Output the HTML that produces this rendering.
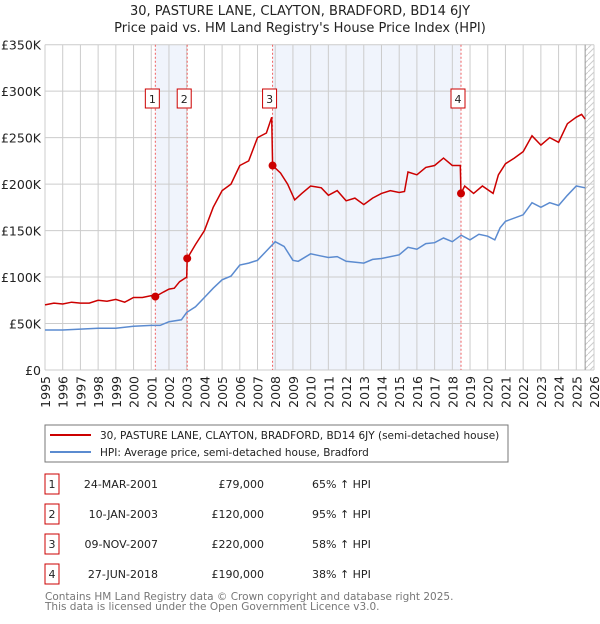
<!DOCTYPE html>
<html><head><meta charset="utf-8"><style>
body{margin:0;background:#fff;font-family:"DejaVu Sans","Liberation Sans",sans-serif;}
svg text{font-family:"DejaVu Sans","Liberation Sans",sans-serif;}
</style></head><body>
<svg id="chart" width="600" height="620" xmlns="http://www.w3.org/2000/svg">
<defs><pattern id="hatch" width="6" height="6" patternUnits="userSpaceOnUse"><path d="M0,6 L6,0" stroke="#ccc" stroke-width="1"/></pattern></defs>
<text x="300" y="15" text-anchor="middle" font-size="13" fill="#222">30, PASTURE LANE, CLAYTON, BRADFORD, BD14 6JY</text>
<text x="300" y="32" text-anchor="middle" font-size="13" fill="#222">Price paid vs. HM Land Registry's House Price Index (HPI)</text>
<g id="plot"></g>
<rect x="45" y="425" width="463" height="37" fill="#fff" stroke="#777"/>
<line x1="50" y1="435" x2="91" y2="435" stroke="#cc0000" stroke-width="2"/>
<text x="100" y="439" font-size="10.5" fill="#222">30, PASTURE LANE, CLAYTON, BRADFORD, BD14 6JY (semi-detached house)</text>
<line x1="50" y1="452" x2="91" y2="452" stroke="#5b8bd0" stroke-width="2"/>
<text x="100" y="456" font-size="10.5" fill="#222">HPI: Average price, semi-detached house, Bradford</text>
<g id="table" font-size="11" fill="#222"></g>
<text x="45" y="600" font-size="10.5" fill="#777">Contains HM Land Registry data © Crown copyright and database right 2025.</text>
<text x="45" y="610" font-size="10.5" fill="#777">This data is licensed under the Open Government Licence v3.0.</text>
</svg>
<script>
const propYears=[1995,1995.5,1996,1996.5,1997,1997.5,1998,1998.5,1999,1999.5,2000,2000.5,2001,2001.23,2001.7,2002,2002.3,2002.6,2003.0,2003.03,2003.5,2004,2004.5,2005,2005.5,2006,2006.5,2007,2007.5,2007.8,2007.85,2008.3,2008.7,2009.1,2009.5,2010,2010.3,2010.6,2011,2011.5,2012,2012.5,2013,2013.5,2014,2014.5,2015,2015.3,2015.5,2016,2016.5,2017,2017.5,2018,2018.45,2018.49,2018.7,2019.2,2019.7,2020.3,2020.6,2021,2021.5,2022,2022.5,2023,2023.5,2024,2024.5,2025,2025.3,2025.5];
const propVals=[70,72,71,73,72,72,75,74,76,73,78,78,80,79,84,87,88,95,100,120,135,150,175,193,200,220,225,250,255,272,220,212,200,183,190,198,197,196,188,193,182,185,178,185,190,193,191,192,213,210,218,220,228,220,220,190,198,190,198,190,210,222,228,235,252,242,250,245,265,272,275,270];
const hpiYears=[1995,1996,1997,1998,1999,2000,2001,2001.5,2002,2002.7,2003,2003.5,2004,2004.5,2005,2005.5,2006,2006.5,2007,2007.5,2008,2008.5,2009,2009.3,2010,2010.5,2011,2011.5,2012,2013,2013.5,2014,2015,2015.5,2016,2016.5,2017,2017.5,2018,2018.5,2019,2019.5,2020,2020.4,2020.7,2021,2022,2022.5,2023,2023.5,2024,2024.5,2025,2025.5];
const hpiVals=[43,43,44,45,45,47,48,48,52,54,62,68,78,88,97,101,113,115,118,128,138,133,118,117,125,123,121,122,117,115,119,120,124,132,130,136,137,142,138,145,140,146,144,140,153,160,167,180,175,180,177,188,198,196];
const saleYears=[2001.23,2003.03,2007.85,2018.49];
const saleVals=[79,120,220,190];
const saleLabels=["1","2","3","4"];
const saleDates=["24-MAR-2001","10-JAN-2003","09-NOV-2007","27-JUN-2018"];
const salePrices=["£79,000","£120,000","£220,000","£190,000"];
const saleHpi=["65% ↑ HPI","95% ↑ HPI","58% ↑ HPI","38% ↑ HPI"];
const yTicks=[0,50,100,150,200,250,300,350];
const yTickLabels=["£0","£50K","£100K","£150K","£200K","£250K","£300K","£350K"];
const xTicks=[1995,1996,1997,1998,1999,2000,2001,2002,2003,2004,2005,2006,2007,2008,2009,2010,2011,2012,2013,2014,2015,2016,2017,2018,2019,2020,2021,2022,2023,2024,2025,2026];

const NS="http://www.w3.org/2000/svg";
const X0=45,X1=594,Y0=370,Y1=44.7;
const xs=y=>X0+(y-1995)*(X1-X0)/31;
const ys=v=>Y0-v*(Y0-Y1)/350;
const g=document.getElementById('plot');
function mk(tag,attrs,parent){const e=document.createElementNS(NS,tag);for(const k in attrs)e.setAttribute(k,attrs[k]);(parent||g).appendChild(e);return e;}
let e;
e=mk('rect',{x:xs(saleYears[0]),y:Y1,width:xs(saleYears[1])-xs(saleYears[0]),height:Y0-Y1,fill:'#f0f4fc'});


e=mk('rect',{x:xs(saleYears[2]),y:Y1,width:xs(saleYears[3])-xs(saleYears[2]),height:Y0-Y1,fill:'#f0f4fc'});


e=mk('rect',{x:xs(2025.5),y:Y1,width:X1-xs(2025.5),height:Y0-Y1,fill:'url(#hatch)'});


yTicks.forEach((t,i)=>{
 e=mk('line',{x1:X0,x2:X1,y1:ys(t),y2:ys(t),stroke:'#ccc','stroke-width':1});
 
 
 e=mk('text',{x:X0-4,y:ys(t)+5,'text-anchor':'end','font-size':12.5,fill:'#222'});
 e.textContent=yTickLabels[i];
 
 
});
xTicks.forEach(t=>{
 e=mk('line',{x1:xs(t),x2:xs(t),y1:Y1,y2:Y0,stroke:'#ccc','stroke-width':1});
 
 
 e=mk('text',{x:0,y:0,'text-anchor':'end','font-size':12.5,fill:'#222',transform:`translate(${xs(t)+5},${Y0+6}) rotate(-90)`});
 e.textContent=t;
 
 
});
e=mk('line',{x1:xs(2025.5),x2:xs(2025.5),y1:Y1,y2:Y0,stroke:'#999','stroke-width':1});


saleYears.forEach(y=>{
 e=mk('line',{x1:xs(y),x2:xs(y),y1:Y1,y2:Y0,stroke:'#f06060','stroke-width':1,'stroke-dasharray':'2,2'});
 
 
});
function pts(a,b){return a.map((y,i)=>xs(y).toFixed(1)+','+ys(b[i]).toFixed(1)).join(' ');}
e=mk('polyline',{points:pts(hpiYears,hpiVals),fill:'none',stroke:'#5b8bd0','stroke-width':1.5});


e=mk('polyline',{points:pts(propYears,propVals),fill:'none',stroke:'#cc0000','stroke-width':1.5});


saleYears.forEach((y,i)=>{
 e=mk('circle',{cx:xs(y),cy:ys(saleVals[i]),r:4,fill:'#cc0000'});
 
 
 e=mk('rect',{x:xs(y)-10,y:89,width:14,height:19,fill:'#fff',stroke:'#cc0000'});
 
 
 e=mk('text',{x:xs(y)-3,y:103,'text-anchor':'middle','font-size':11,fill:'#222'});
 e.textContent=saleLabels[i];
 
 
});
const tg=document.getElementById('table');
saleLabels.forEach((l,i)=>{
 const cy=483+i*30;
 e=mk('rect',{x:45,y:cy-9,width:14,height:20,fill:'#fff',stroke:'#cc0000'},tg);
 
 
 e=mk('text',{x:52,y:cy+5,'text-anchor':'middle'},tg);e.textContent=l;
 
 
 e=mk('text',{x:158,y:cy+5,'text-anchor':'end'},tg);e.textContent=saleDates[i];
 
 
 e=mk('text',{x:264,y:cy+5,'text-anchor':'end'},tg);e.textContent=salePrices[i];
 
 
 e=mk('text',{x:312,y:cy+5},tg);e.textContent=saleHpi[i];
 
 
});
</script>
</body></html>
